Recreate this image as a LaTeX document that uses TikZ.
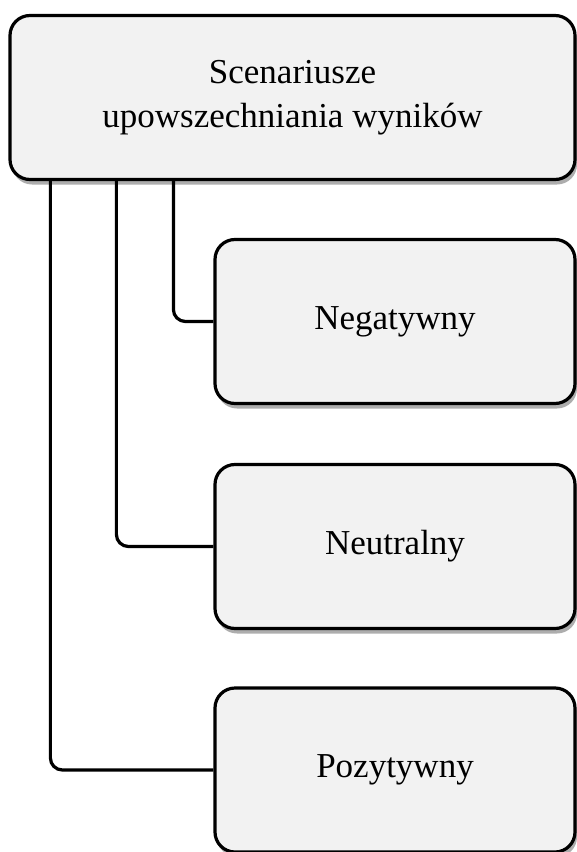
\documentclass[tikz,border=0pt]{standalone}
\usepackage{fontspec}
\setmainfont{Liberation Serif}
\usetikzlibrary{shadows}
\begin{document}
\begin{tikzpicture}[x=1bp,y=-1bp,
  box/.style={draw=black, line width=3.2bp, rounded corners=20bp, fill=boxgray,
    minimum height=164bp, align=center, inner sep=0pt,
    font=\fontsize{35bp}{44bp}\selectfont,
    drop shadow={shadow xshift=2bp, shadow yshift=-5bp, fill=black!40, opacity=0.8}},
  link/.style={draw=black, line width=3.2bp, rounded corners=12bp}]
\definecolor{boxgray}{HTML}{F2F2F2}
\useasboundingbox (0,0) rectangle (577,852);
\node[box, minimum width=565bp] (top) at (292.5,97.5) {Scenariusze\\upowszechniania wyników};
\node[box, minimum width=360bp] (neg) at (395,321.5) {Negatywny};
\node[box, minimum width=360bp] (neu) at (395,546.5) {Neutralny};
\node[box, minimum width=360bp] (poz) at (395,770) {Pozytywny};
\draw[link] ([xshift=165bp]top.south west) |- (neg.west);
\draw[link] ([xshift=108bp]top.south west) |- (neu.west);
\draw[link] ([xshift=42bp]top.south west) |- (poz.west);
\end{tikzpicture}
\end{document}
